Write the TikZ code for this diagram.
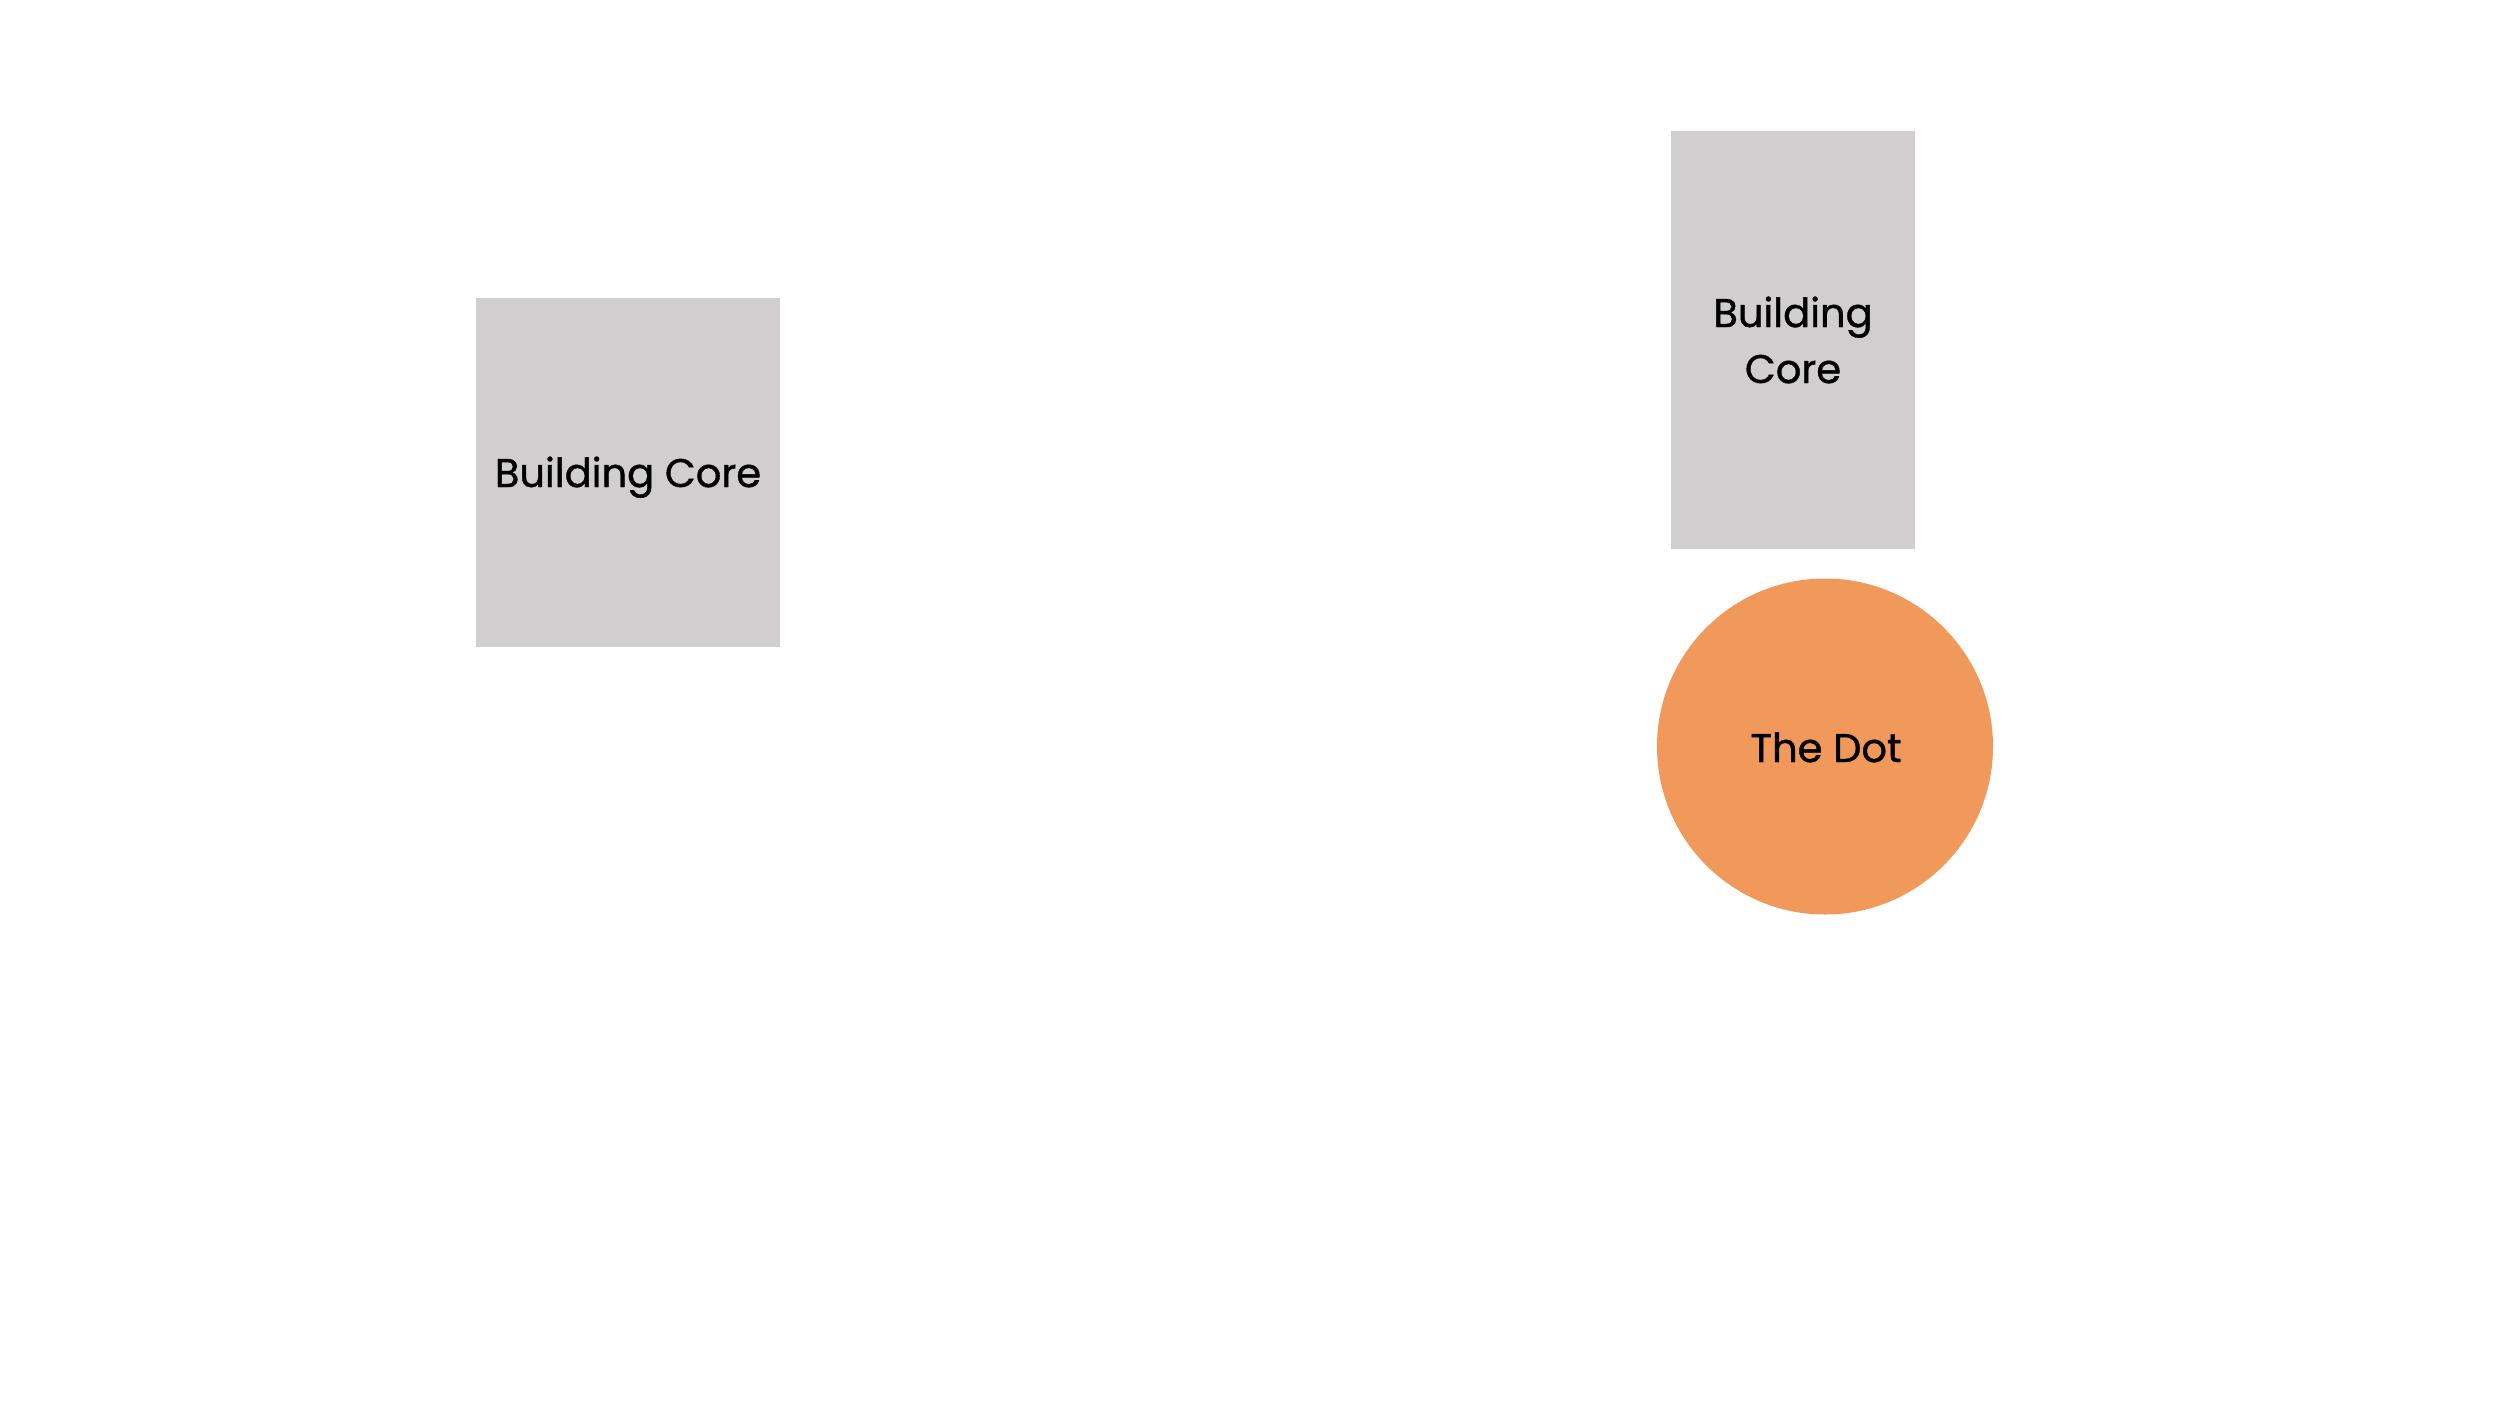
\documentclass[tikz,border=0pt]{standalone}
\usepackage{fontspec}
\setmainfont[FakeBold=1]{Poppins}
\definecolor{coregray}{RGB}{208,206,207}
\definecolor{dotorange}{RGB}{240,153,91}
\begin{document}
\begin{tikzpicture}[x=1pt,y=-1pt,
  corebox/.style={fill=coregray, draw=none, inner sep=0pt, anchor=north west},
  dotnode/.style={circle, fill=dotorange, draw=none, inner sep=0pt, minimum size=336pt},
  lbl/.style={anchor=base, inner sep=0pt, font=\fontsize{40}{48}\selectfont, text=black}]
\useasboundingbox[fill=white] (0,0) rectangle (2500,1406);
\node[corebox, minimum width=304pt, minimum height=349pt] (coreA) at (476,298) {};
\node[corebox, minimum width=244pt, minimum height=418pt] (coreB) at (1671,131) {};
\node[dotnode] (dot) at (1825,746.5) {};
\node[lbl] (coreAtext) at (628,487) {Building Core};
\node[lbl] (coreBtext1) at (1793,327) {Building};
\node[lbl] (coreBtext2) at (1793,383) {Core};
\node[lbl] (dottext) at (1826,762) {The Dot};
\end{tikzpicture}
\end{document}
